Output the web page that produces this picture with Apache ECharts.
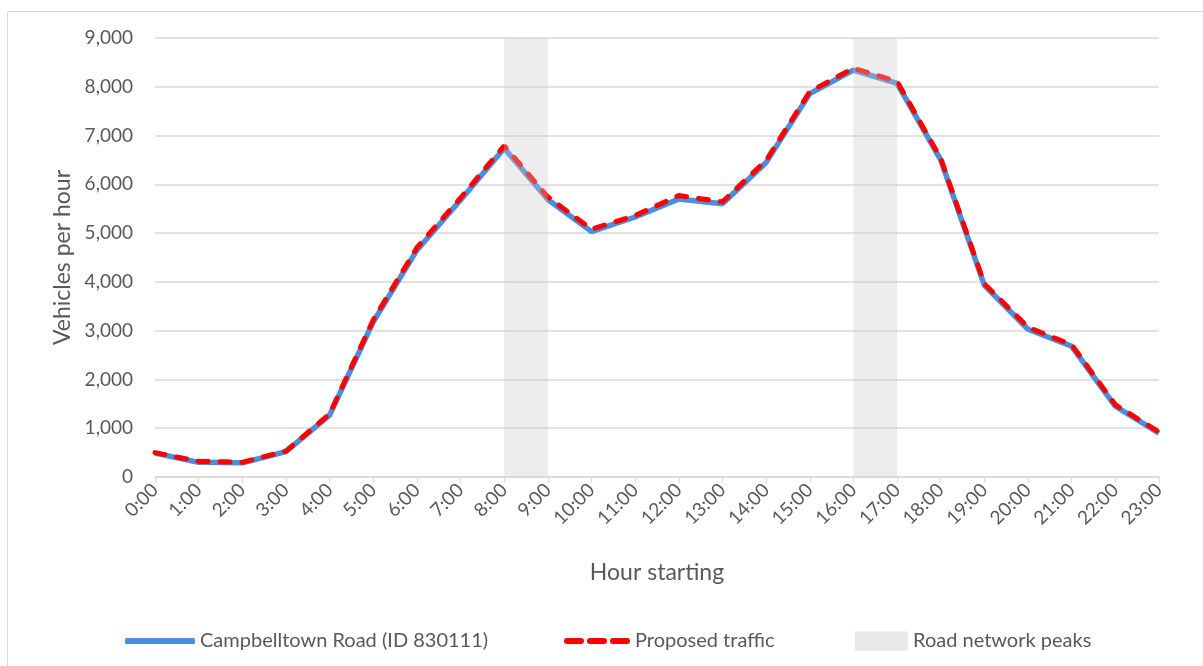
<!DOCTYPE html>
<html lang="en" style="height: 100%">
<head>
  <meta charset="utf-8">
</head>
<body style="height: 100%; margin: 0">
  <div id="container" style="height: 100%"></div>
  <script type="text/javascript" src="https://fastly.jsdelivr.net/npm/echarts@6/dist/echarts.min.js"></script>
  <script type="text/javascript">
    var hours = ['0:00', '1:00', '2:00', '3:00', '4:00', '5:00', '6:00', '7:00', '8:00', '9:00', '10:00', '11:00',
      '12:00', '13:00', '14:00', '15:00', '16:00', '17:00', '18:00', '19:00', '20:00', '21:00', '22:00', '23:00'];
    var campbelltown = [490, 300, 290, 520, 1270, 3180, 4650, 5680, 6740, 5690, 5030, 5330,
      5700, 5600, 6450, 7860, 8340, 8070, 6500, 3930, 3030, 2680, 1450, 900];
    var proposed = [500, 320, 300, 530, 1290, 3220, 4700, 5720, 6790, 5740, 5080, 5360,
      5770, 5640, 6490, 7900, 8380, 8110, 6530, 3960, 3070, 2710, 1480, 920];
    var peaks = [['8:00', '9:00'], ['16:00', '17:00']];

    var dom = document.getElementById('container');
    var myChart = echarts.init(dom, null, { renderer: 'canvas' });

    var font = 'Lato';
    var textColor = '#595959';
    var blue = '#4a8fde';
    var red = '#ff0000';
    var legendText = { fontFamily: font, fontSize: 20, color: textColor };

    // three dashes for the dashed-line legend key
    var dashIcon = 'path://M3,0 H17 A3,3 0 0 1 17,6 H3 A3,3 0 0 1 3,0 Z' +
      'M26,0 H40 A3,3 0 0 1 40,6 H26 A3,3 0 0 1 26,0 Z' +
      'M49,0 H63 A3,3 0 0 1 63,6 H49 A3,3 0 0 1 49,0 Z';

    var option = {
      animation: false,
      backgroundColor: '#fff',
      textStyle: { fontFamily: font, color: textColor },
      graphic: [{
        type: 'rect',
        shape: { x: 7.5, y: 11.5, width: 1210, height: 670 },
        style: { fill: 'none', stroke: '#d9d9d9', lineWidth: 1 },
        silent: true
      }],
      grid: { left: 155, right: 44, top: 38, bottom: 189 },
      legend: [
        {
          left: 120, top: 626, itemWidth: 70, itemHeight: 6,
          textStyle: legendText,
          data: [{ name: 'Campbelltown Road (ID 830111)', icon: 'roundRect', itemStyle: { color: blue } }]
        },
        {
          left: 559, top: 626, itemWidth: 66, itemHeight: 6,
          textStyle: legendText,
          data: [{ name: 'Proposed traffic', icon: dashIcon, itemStyle: { color: red } }]
        },
        {
          left: 850, top: 626, itemWidth: 53, itemHeight: 19,
          textStyle: legendText,
          data: [{ name: 'Road network peaks', icon: 'rect', itemStyle: { color: '#e8e8e8' } }]
        }
      ],
      xAxis: {
        type: 'category',
        data: hours,
        boundaryGap: false,
        name: 'Hour starting',
        nameLocation: 'middle',
        nameGap: 84,
        nameTextStyle: { fontSize: 23, color: textColor, fontFamily: font },
        axisLine: { lineStyle: { color: '#d9d9d9', width: 1.5 } },
        axisTick: { show: true, length: 6, lineStyle: { color: '#d9d9d9' } },
        axisLabel: { rotate: 45, fontSize: 19, color: textColor, margin: 10, interval: 0 },
        splitLine: { show: false }
      },
      yAxis: {
        type: 'value',
        min: 0,
        max: 9000,
        interval: 1000,
        name: 'Vehicles per hour',
        nameLocation: 'middle',
        nameGap: 81,
        nameTextStyle: { fontSize: 23, color: textColor, fontFamily: font },
        axisLine: { show: false },
        axisTick: { show: false },
        axisLabel: {
          fontSize: 19,
          color: textColor,
          margin: 22,
          formatter: function (v) { return v.toLocaleString('en-US'); }
        },
        splitLine: { lineStyle: { color: '#d9d9d9', width: 1.5 } }
      },
      series: [
        {
          name: 'Campbelltown Road (ID 830111)',
          type: 'line',
          data: campbelltown,
          symbol: 'none',
          z: 2,
          itemStyle: { color: blue },
          lineStyle: { color: blue, width: 5.5 }
        },
        {
          name: 'Proposed traffic',
          type: 'line',
          data: proposed,
          symbol: 'none',
          z: 3,
          itemStyle: { color: red },
          lineStyle: { color: red, width: 5, type: [10, 12], cap: 'round' }
        },
        {
          name: 'Road network peaks',
          type: 'line',
          data: [],
          symbol: 'none',
          z: 5,
          itemStyle: { color: '#e8e8e8' },
          lineStyle: { color: '#e8e8e8' },
          markArea: {
            silent: true,
            z: 10,
            itemStyle: { color: 'rgba(200,200,200,0.33)' },
            data: peaks.map(function (p) { return [{ xAxis: p[0] }, { xAxis: p[1] }]; })
          }
        }
      ]
    };

    myChart.setOption(option);
    window.addEventListener('resize', myChart.resize);
  </script>
</body>
</html>
